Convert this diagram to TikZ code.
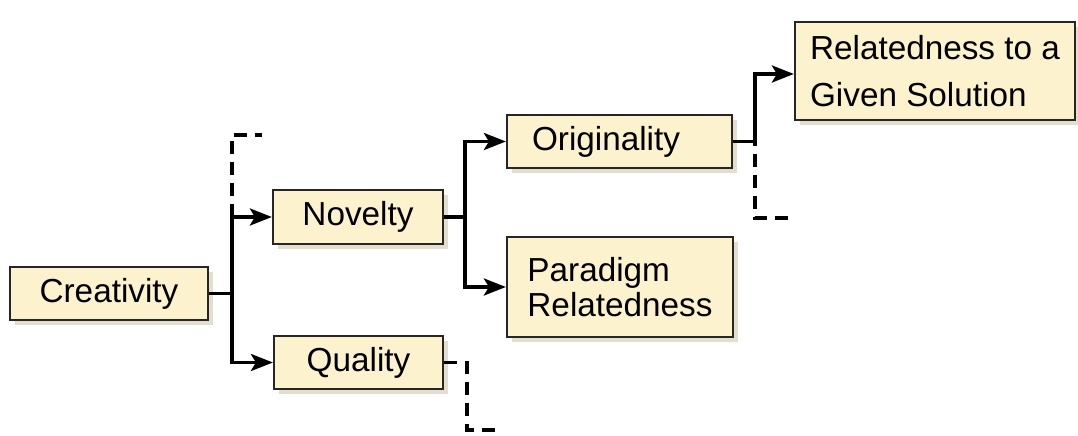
\documentclass[tikz,border=0pt]{standalone}
\usepackage{fontspec}
\setmainfont{Liberation Sans}
\usetikzlibrary{arrows.meta,shadows}
\definecolor{boxfill}{RGB}{252,242,206}
\definecolor{shadowcol}{RGB}{200,190,160}
\begin{document}
\begin{tikzpicture}[x=1pt,y=-1pt,
  box/.style={draw=black!85, line width=2.2pt, fill=boxfill, inner sep=0pt,
    font=\fontsize{33.3}{35}\selectfont,
    drop shadow={shadow xshift=5pt, shadow yshift=-5pt, opacity=0.5, fill=shadowcol}},
  link/.style={line width=3.5pt},
  arrowlink/.style={link, -{Stealth[length=22pt,width=17pt,inset=5pt]}},
  stub/.style={line width=3.2pt, dash pattern=on 13pt off 8pt}]
\useasboundingbox (0,0) rectangle (1078,436);

% boxes
\node[box, minimum width=198pt, minimum height=53pt] (crea) at (109,293.5) {Creativity};
\node[box, minimum width=170pt, minimum height=54pt] (nov) at (358,217) {Novelty};
\node[box, minimum width=169pt, minimum height=53pt] (qual) at (358.5,362.5) {Quality};
\node[box, minimum height=53pt, inner xsep=25pt, text width=175pt, align=left] (orig) at (619.5,141.5) {Originality};
\node[box, minimum width=226pt, minimum height=100pt, align=left] (para) at (620,287) {Paradigm\\Relatedness};
\node[box, minimum width=280pt, minimum height=98pt, align=left,
      font=\fontsize{33.3}{47}\selectfont] (rel) at (935,71) {Relatedness to a\\Given Solution};

% branching points
\coordinate (j1) at (232,293.5);
\coordinate (j2) at (465,217);
\coordinate (j3) at (755,141.5);

% solid connectors
\draw[link] (crea.east) -- (j1);
\draw[arrowlink] (j1) |- (nov.west);
\draw[arrowlink] (j1) |- (qual.west);
\draw[link] (nov.east) -- (j2);
\draw[arrowlink] (j2) |- (orig.west);
\draw[arrowlink] (j2) |- (para.west);
\draw[link] (orig.east) -- (j3);
\draw[arrowlink] (j3) |- ([yshift=-3pt]rel.west);

% dashed open branches
\coordinate (a1) at (232,135);
\coordinate (a2) at (262,135);
\draw[stub] (j1 |- nov.west) -- (a1) -- (a2);

\coordinate (b1) at (755,218);
\coordinate (b2) at (790,218);
\draw[stub] ([yshift=9pt]j3) -- (b1) -- (b2);

\coordinate (c1) at (467,362.5);
\coordinate (c2) at (467,430);
\coordinate (c3) at (500,430);
\draw[stub] (qual.east) -- (c1) -- (c2) -- (c3);
\end{tikzpicture}
\end{document}
